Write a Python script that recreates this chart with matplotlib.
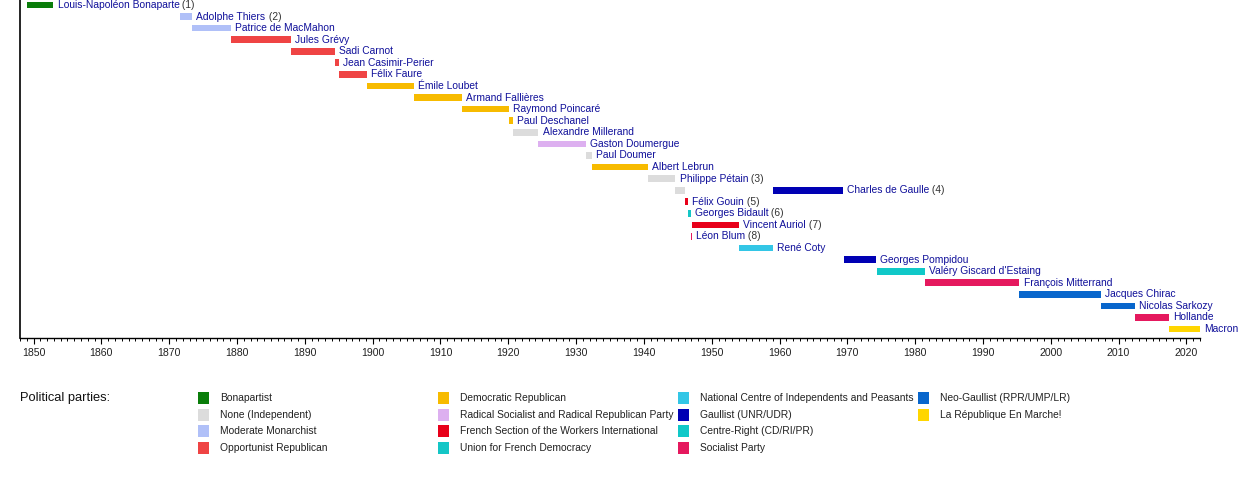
import matplotlib.pyplot as plt
from matplotlib.patches import Rectangle
from matplotlib.ticker import MultipleLocator

plt.rcParams['font.family'] = ['Liberation Sans', 'DejaVu Sans']

# colours
name_color = '#10109a'
note_color = '#333333'

# parties (legend order, column by column)
parties = ['Bonapartist', 'None (Independent)', 'Moderate Monarchist',
           'Opportunist Republican', 'Democratic Republican',
           'Radical Socialist and Radical Republican Party',
           'French Section of the Workers International',
           'Union for French Democracy',
           'National Centre of Independents and Peasants',
           'Gaullist (UNR/UDR)', 'Centre-Right (CD/RI/PR)', 'Socialist Party',
           'Neo-Gaullist (RPR/UMP/LR)', 'La République En Marche!']
party_colors = ['#0a7d0a', '#dcdcdc', '#b0c0f8', '#ef4444', '#f7bb00',
                '#ddb0f0', '#e8001a', '#14c6c6', '#33c6e6', '#0000b4',
                '#10c8c8', '#e5195e', '#0866cc', '#ffd600']
color_of = dict(zip(parties, party_colors))

# presidents, one row each
presidents = ['Louis-Napoléon Bonaparte', 'Adolphe Thiers', 'Patrice de MacMahon',
              'Jules Grévy', 'Sadi Carnot', 'Jean Casimir-Perier', 'Félix Faure',
              'Émile Loubet', 'Armand Fallières', 'Raymond Poincaré',
              'Paul Deschanel', 'Alexandre Millerand', 'Gaston Doumergue',
              'Paul Doumer', 'Albert Lebrun', 'Philippe Pétain', 'Charles de Gaulle',
              'Félix Gouin', 'Georges Bidault', 'Vincent Auriol', 'Léon Blum',
              'René Coty', 'Georges Pompidou', "Valéry Giscard d'Estaing",
              'François Mitterrand', 'Jacques Chirac', 'Nicolas Sarkozy',
              'Hollande', 'Macron']
notes = ['1', '2', '', '', '', '', '', '', '', '', '', '', '', '', '', '3', '4',
         '5', '6', '7', '8', '', '', '', '', '', '', '', '']

# terms in office (row = index into presidents)
term_row = [0, 1, 2, 3, 4, 5, 6, 7, 8, 9, 10, 11, 12, 13, 14, 15, 16, 16,
            17, 18, 19, 20, 21, 22, 23, 24, 25, 26, 27, 28]
term_start = [1848.97, 1871.66, 1873.40, 1879.08, 1887.92, 1894.48, 1895.04,
              1899.13, 1906.13, 1913.13, 1920.13, 1920.72, 1924.45, 1931.45,
              1932.35, 1940.53, 1944.65, 1959.02, 1946.07, 1946.47, 1947.04,
              1946.95, 1954.04, 1969.47, 1974.40, 1981.40, 1995.38, 2007.37,
              2012.37, 2017.37]
term_end = [1852.92, 1873.40, 1879.08, 1887.92, 1894.48, 1895.04, 1899.13,
            1906.13, 1913.13, 1920.13, 1920.72, 1924.45, 1931.45, 1932.35,
            1940.53, 1944.64, 1946.05, 1969.33, 1946.47, 1946.90, 1954.04,
            1947.04, 1959.02, 1974.26, 1981.40, 1995.38, 2007.37, 2012.37,
            2017.37, 2022.0]
term_party = ['Bonapartist', 'Moderate Monarchist', 'Moderate Monarchist',
              'Opportunist Republican', 'Opportunist Republican',
              'Opportunist Republican', 'Opportunist Republican',
              'Democratic Republican', 'Democratic Republican',
              'Democratic Republican', 'Democratic Republican',
              'None (Independent)', 'Radical Socialist and Radical Republican Party',
              'None (Independent)', 'Democratic Republican', 'None (Independent)',
              'None (Independent)', 'Gaullist (UNR/UDR)',
              'French Section of the Workers International',
              'Union for French Democracy',
              'French Section of the Workers International', 'Socialist Party',
              'National Centre of Independents and Peasants', 'Gaullist (UNR/UDR)',
              'Centre-Right (CD/RI/PR)', 'Socialist Party',
              'Neo-Gaullist (RPR/UMP/LR)', 'Neo-Gaullist (RPR/UMP/LR)',
              'Socialist Party', 'La République En Marche!']

fig = plt.figure(figsize=(12.5, 4.87), dpi=100)

# pixel-space layer for the legend
lay = fig.add_axes([0, 0, 1, 1])
lay.set_xlim(0, 1250)
lay.set_ylim(487, 0)
lay.axis('off')

ax = fig.add_axes([20 / 1250, 1 - 338.3 / 487, 1180 / 1250, 338.3 / 487])
ax.patch.set_visible(False)

widths = [e - s for s, e in zip(term_start, term_end)]
ax.barh(term_row, widths, left=term_start, height=0.58,
        color=[color_of[p] for p in term_party], linewidth=0)

# name labels after the last term of each row
last_end = {}
for r, e in zip(term_row, term_end):
    last_end[r] = max(last_end.get(r, 0), e)
for r, name in enumerate(presidents):
    t = ax.annotate(name, (last_end[r], r), xytext=(3, 0), textcoords='offset points',
                    va='center', ha='left', fontsize=7.4, color=name_color,
                    annotation_clip=False)
    if notes[r]:
        ax.annotate(' (%s)' % notes[r], xy=(1, 0.5), xycoords=t, va='center',
                    ha='left', fontsize=7.4, color=note_color)

ax.set_xlim(1848, 2022)
ax.set_ylim(28.8, -0.43)
ax.set_yticks([])
for s in ['top', 'right']:
    ax.spines[s].set_visible(False)
ax.spines['left'].set_linewidth(1.2)
ax.spines['bottom'].set_linewidth(1.0)
ax.xaxis.set_major_locator(MultipleLocator(10))
ax.xaxis.set_minor_locator(MultipleLocator(1))
ax.tick_params(axis='x', which='major', length=4, width=0.8, pad=3,
               labelsize=7.6, labelcolor='#222222')
ax.tick_params(axis='x', which='minor', length=2, width=0.7)

# legend
lay.text(20, 398, 'Political parties:', fontsize=9.3, va='center', ha='left',
         color='#111111')
for i, (p, c) in enumerate(zip(parties, party_colors)):
    x = 198 + 240 * (i // 4)
    y = 398 + 16.6 * (i % 4)
    lay.add_patch(Rectangle((x, y - 6), 11, 12, color=c, linewidth=0))
    lay.text(x + 22, y, p, fontsize=7.4, va='center', ha='left', color='#222222')

fig.savefig('out.png', dpi=100, facecolor='white')
